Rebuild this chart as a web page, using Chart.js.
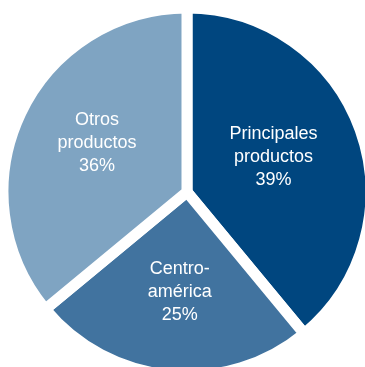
<!DOCTYPE html>
<html>

<head>
    <meta charset="UTF-8">
    <title>Pie</title>
    <script src="https://cdn.jsdelivr.net/npm/chart.js@4/dist/chart.umd.min.js"></script>
    <style>
        html, body {
            margin: 0;
            padding: 0;
            background: #ffffff;
            overflow: hidden;
        }

        #holder {
            position: absolute;
            left: 0;
            top: 0;
            width: 374px;
            height: 384px;
        }
    </style>
</head>

<body>
    <div id="holder">
        <canvas id="chart-area"></canvas>
    </div>

    <script>
        // datos
        var etiquetas = [['Principales', 'productos'], ['Centro-', 'américa'], ['Otros', 'productos']];
        var valores = [39, 25, 36];
        var colores = ['#00467f', '#41739f', '#7fa4c2'];

        // texto dentro de cada rebanada
        var textoRebanadas = {
            id: 'textoRebanadas',
            afterDraw: function (chart, args, opts) {
                var ctx = chart.ctx;
                var arcos = chart.getDatasetMeta(0).data;
                ctx.save();
                ctx.fillStyle = '#ffffff';
                ctx.font = '18px "Liberation Sans", Arial, sans-serif';
                ctx.textAlign = 'center';
                ctx.textBaseline = 'middle';
                arcos.forEach(function (arco, i) {
                    var mid = (arco.startAngle + arco.endAngle) / 2;
                    var r = arco.outerRadius * 0.54;
                    var ajuste = opts.ajuste[i] || [0, 0];
                    var x = arco.x + Math.cos(mid) * r + ajuste[0];
                    var y = arco.y + Math.sin(mid) * r + ajuste[1];
                    var lineas = etiquetas[i].concat([valores[i] + '%']);
                    var alto = 23;
                    var y0 = y - alto * (lineas.length - 1) / 2;
                    lineas.forEach(function (t, j) {
                        ctx.fillText(t, x, y0 + j * alto);
                    });
                });
                ctx.restore();
            }
        };

        var config = {
            type: 'pie',
            data: {
                labels: etiquetas.map(function (e) { return e.join(' '); }),
                datasets: [{
                    data: valores,
                    backgroundColor: colores,
                    borderColor: '#ffffff',
                    borderWidth: 11,
                    borderJoinStyle: 'miter'
                }]
            },
            options: {
                responsive: true,
                maintainAspectRatio: false,
                animation: false,
                radius: 184,
                plugins: {
                    legend: { display: false },
                    tooltip: { enabled: false },
                    textoRebanadas: { ajuste: [[-7, -1], [2, 1], [0, -7]] }
                }
            },
            plugins: [textoRebanadas]
        };

        window.onload = function () {
            var ctx = document.getElementById('chart-area').getContext('2d');
            window.grafico = new Chart(ctx, config);
        };
    </script>

</body>

</html>
